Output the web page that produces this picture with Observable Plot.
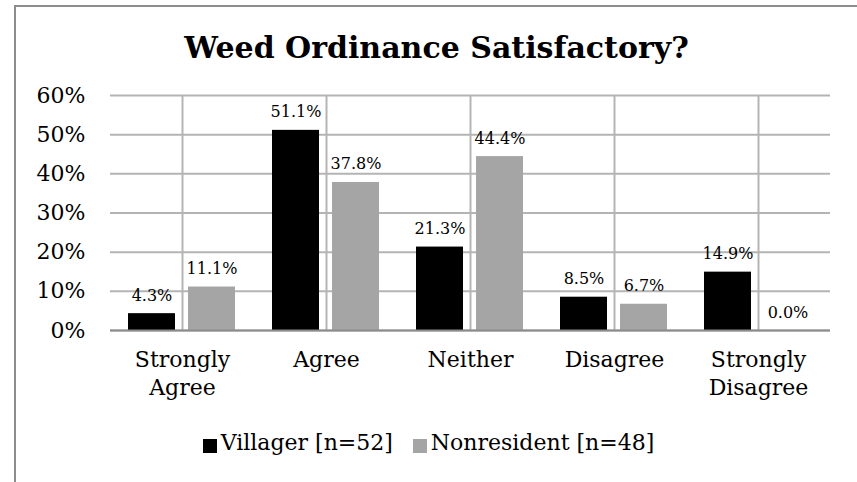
<!DOCTYPE html>
<html>
<head>
<meta charset="utf-8">
<script src="https://cdn.jsdelivr.net/npm/d3@7"></script>
<script src="https://cdn.jsdelivr.net/npm/@observablehq/plot@0.6"></script>
<style>
  html, body { margin: 0; padding: 0; background: #fff; }
  #wrap { position: relative; width: 857px; height: 482px; overflow: hidden; font-family: "DejaVu Serif", serif; }
  #border { position: absolute; left: 14px; top: 5px; width: 860px; height: 490px; border-top: 2px solid #8d8d8d; border-left: 2px solid #8d8d8d; box-sizing: border-box; }
  #title { position: absolute; left: 16px; width: 841px; top: 31px; text-align: center; font-weight: bold; font-size: 30px; line-height: 34px; color: #000; }
  #legend { position: absolute; left: 0; width: 857px; top: 428px; display: flex; justify-content: center; font-size: 22px; line-height: 30px; color: #000; padding-right: 16px; }
  .item { display: flex; align-items: center; margin: 0 10px; }
  .sw { width: 14px; height: 14px; margin-right: 4px; margin-top: 6px; }
  #chart { position: absolute; left: 0; top: 0; }
</style>
</head>
<body>
<div id="wrap">
  <div id="chart"></div>
  <div id="border"></div>
  <div id="title"></div>
  <div id="legend"></div>
</div>
<script>
const title = "Weed Ordinance Satisfactory?";
const categories = ["Strongly Agree", "Agree", "Neither", "Disagree", "Strongly Disagree"];
const seriesNames = ["Villager [n=52]", "Nonresident [n=48]"];
const villager = [4.3, 51.1, 21.3, 8.5, 14.9];
const nonresident = [11.1, 37.8, 44.4, 6.7, 0.0];
const yTicks = [0, 10, 20, 30, 40, 50, 60];
const colors = ["#000000", "#a5a5a5"];

const data = [];
categories.forEach((c, i) => {
  data.push({category: c, series: seriesNames[0], value: villager[i]});
  data.push({category: c, series: seriesNames[1], value: nonresident[i]});
});

document.getElementById("title").textContent = title;
const legend = document.getElementById("legend");
seriesNames.forEach((s, i) => {
  const it = document.createElement("div");
  it.className = "item";
  const sw = document.createElement("div");
  sw.className = "sw";
  sw.style.background = colors[i];
  const tx = document.createElement("span");
  tx.textContent = s;
  it.appendChild(sw);
  it.appendChild(tx);
  legend.appendChild(it);
});

const gridStyle = {stroke: "#b4b4b4", strokeWidth: 2, strokeOpacity: 1};

const plot = Plot.plot({
  width: 857,
  height: 482,
  marginLeft: 109,
  marginRight: 26,
  marginTop: 95,
  marginBottom: 152,
  style: {fontFamily: "DejaVu Serif", fontSize: "22px", color: "#000", background: "transparent"},
  fx: {domain: categories, padding: 0, label: null},
  x: {domain: seriesNames, paddingInner: 0.213, paddingOuter: 0.2885, axis: null},
  y: {domain: [0, 60], label: null},
  color: {domain: seriesNames, range: colors},
  marks: [
    Plot.gridY(yTicks, gridStyle),
    Plot.gridFx(gridStyle),
    Plot.barY(data, {fx: "category", x: "series", y: "value", fill: "series"}),
    Plot.ruleY([0], {stroke: "#8c8c8c", strokeWidth: 2}),
    Plot.axisY(yTicks, {tickSize: 0, tickPadding: 25, tickFormat: d => d + "%", fontSize: 22, label: null}),
    Plot.axisFx({anchor: "bottom", tickSize: 0, tickPadding: 16, fontSize: 22, lineHeight: 1.3, label: null,
      tickFormat: d => d.startsWith("Strongly ") ? d.replace(" ", "\n") : d}),
    Plot.text(data, {fx: "category", x: "series", y: "value", text: d => d.value.toFixed(1) + "%",
      lineAnchor: "bottom", dy: -13, fontSize: 16, fill: "#000"})
  ]
});
document.getElementById("chart").appendChild(plot);
</script>
</body>
</html>
